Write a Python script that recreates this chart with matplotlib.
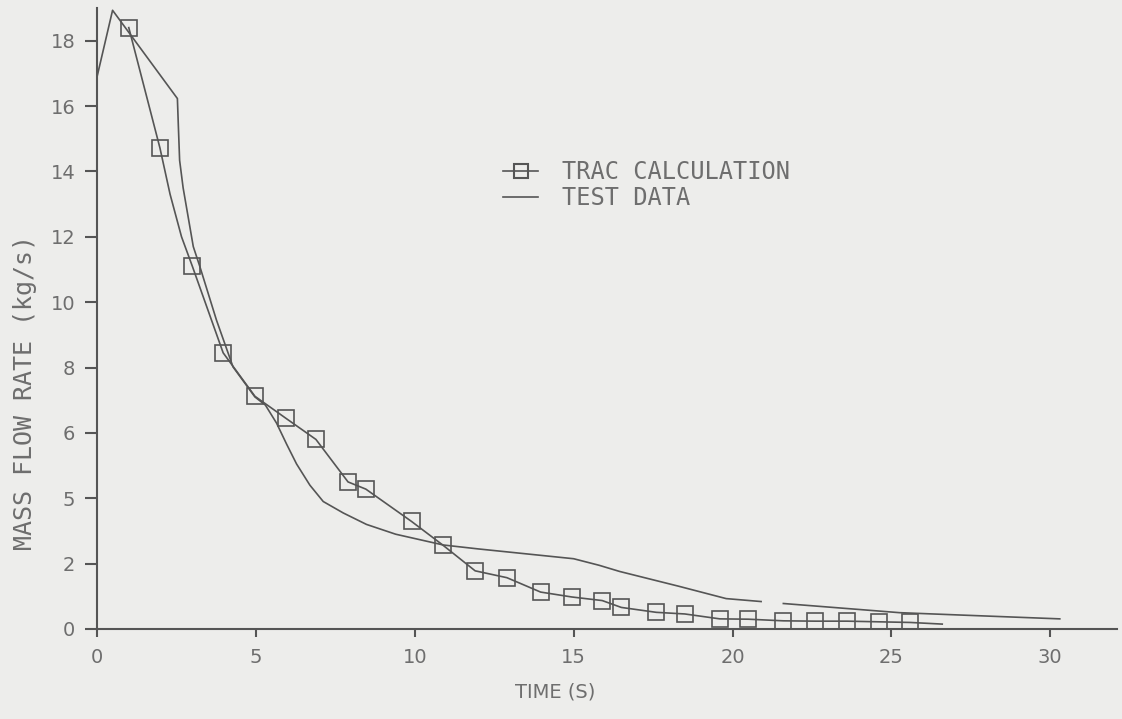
import numpy as np
import matplotlib
matplotlib.use("Agg")
import matplotlib.pyplot as plt
from matplotlib.lines import Line2D

# TRAC calculation markers
trac_t = [1.0, 1.98, 3.0, 3.97, 4.97, 5.94, 6.89, 7.9, 8.46, 9.9, 10.88, 11.9,
          12.9, 13.96, 14.94, 15.9, 16.5, 17.6, 18.5, 19.6, 20.5, 21.6, 22.6,
          23.6, 24.6, 25.6]
trac_v = [18.4, 14.72, 11.1, 8.45, 7.12, 6.45, 5.8, 4.5, 4.28, 3.29, 2.57, 1.78,
          1.57, 1.13, 0.98, 0.87, 0.66, 0.51, 0.46, 0.31, 0.3, 0.25, 0.24,
          0.24, 0.22, 0.2]
# TRAC calculation curve (read points, including between markers)
trac_line_t = [1.0, 1.98, 2.3, 2.66, 3.0, 3.97, 4.97, 5.94, 6.89, 7.9, 8.46, 9.9,
               10.88, 11.9, 12.9, 13.96, 14.94, 15.9, 16.5, 17.6, 18.5, 19.6,
               20.5, 21.6, 22.6, 23.6, 24.6, 25.6, 26.6]
trac_line_v = [18.4, 14.72, 13.3, 12.0, 11.1, 8.45, 7.12, 6.45, 5.8, 4.5, 4.28, 3.29,
               2.57, 1.78, 1.57, 1.13, 0.98, 0.87, 0.66, 0.51, 0.46, 0.31,
               0.3, 0.25, 0.24, 0.24, 0.22, 0.2, 0.15]

# Test data curve
test_t = [0.0, 0.49, 2.53, 2.56, 2.6, 2.71, 3.03, 3.24, 3.76, 4.28, 4.97, 5.3,
          5.65, 5.97, 6.28, 6.7, 7.12, 7.75, 8.48, 9.4, 10.9, 12.0, 13.0, 15.0,
          15.8, 16.45, 18.3, 19.8, 20.9, np.nan, 21.6, 25.25, 27.1, 30.3]
test_v = [16.89, 18.93, 16.23, 15.4, 14.34, 13.5, 11.7, 11.08, 9.45, 8.02, 7.1, 6.85,
          6.3, 5.65, 5.05, 4.4, 3.9, 3.55, 3.2, 2.9, 2.57, 2.45, 2.35, 2.15,
          1.95, 1.76, 1.31, 0.93, 0.84, np.nan, 0.78, 0.5, 0.43, 0.31]

x_ticks = [0, 5, 10, 15, 20, 25, 30]
y_ticks = [0, 2, 4, 6, 8, 10, 12, 14, 16, 18]
y_tick_labels = ["0", "2", "5", "6", "8", "10", "12", "14", "16", "18"]

BG = "#ededeb"
INK = "#555555"
TXT = "#6e6e6e"
MONO = ["DejaVu Sans Mono", "DejaVu Sans"]

plt.rcParams['font.family'] = ['DejaVu Sans']

fig = plt.figure(figsize=(11.22, 7.19), dpi=100, facecolor=BG)
ax = fig.add_axes([97 / 1122, 1 - 629 / 719, (1117 - 97) / 1122, (629 - 8) / 719])
ax.set_facecolor(BG)

ax.plot(test_t, test_v, color=INK, lw=1.2, zorder=2)
ax.plot(trac_line_t, trac_line_v, color=INK, lw=1.2, zorder=3)
ax.plot(trac_t, trac_v, linestyle="none", marker="s", markersize=12,
        markerfacecolor="none", markeredgecolor=INK, markeredgewidth=1.2, zorder=4)

ax.set_xlim(0, 32.1)
ax.set_ylim(0, 19.0)
ax.set_xticks(x_ticks)
ax.set_yticks(y_ticks)
ax.set_yticklabels(y_tick_labels)

for s in ["top", "right"]:
    ax.spines[s].set_visible(False)
for s in ["left", "bottom"]:
    ax.spines[s].set_color(INK)
    ax.spines[s].set_linewidth(1.5)

ax.tick_params(axis="both", direction="out", width=1.5, color=INK,
               labelcolor=TXT, labelsize=14)
ax.tick_params(axis="x", length=6, pad=8)
ax.tick_params(axis="y", length=8.5, pad=7)

ax.set_xlabel("TIME (S)", color=TXT, fontsize=14)
ax.xaxis.set_label_coords((555 - 97) / 1020, (629 - 682) / 621)
ax.set_ylabel("MASS FLOW RATE (kg/s)", color=TXT, fontsize=18, family=MONO)
ax.yaxis.set_label_coords((37 - 97) / 1020, (629 - 392) / 621)

h1 = Line2D([], [], color=INK, lw=1.2, marker="s", markersize=10,
            markerfacecolor="none", markeredgecolor=INK, markeredgewidth=1.5)
h2 = Line2D([], [], color=INK, lw=1.2)
leg = fig.legend([h1, h2], ["TRAC CALCULATION", "TEST DATA"],
                 loc="upper left", bbox_to_anchor=(503 / 1122, 1 - 160 / 719),
                 frameon=False, prop={"family": MONO, "size": 17},
                 handlelength=1.5, handletextpad=1.0,
                 labelspacing=0.1, borderpad=0, borderaxespad=0)
for t in leg.get_texts():
    t.set_color(TXT)

fig.savefig("out.png", dpi=100, facecolor=BG)
